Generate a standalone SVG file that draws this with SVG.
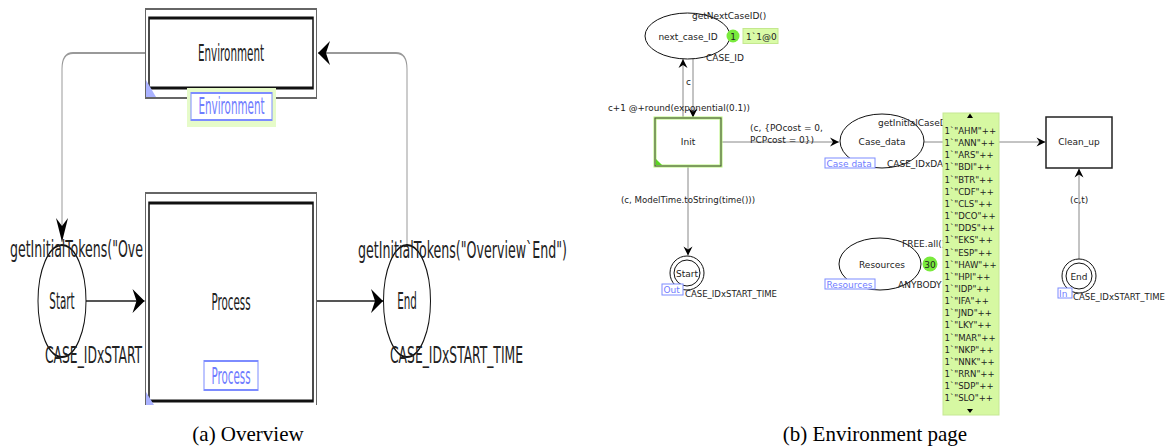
<svg xmlns="http://www.w3.org/2000/svg" width="1169" height="448" viewBox="0 0 1169 448">
<style>
.lt{font-family:"DejaVu Sans Condensed","DejaVu Sans",sans-serif;font-size:11.5px;fill:#222}
.lm{text-anchor:middle}
.lb{font-family:"DejaVu Sans Condensed","DejaVu Sans",sans-serif;font-size:11.5px;fill:#6f7cff}
.rt{font-family:"DejaVu Sans",sans-serif;font-size:9px;fill:#222}
.rb{font-family:"DejaVu Sans",sans-serif;font-size:9px;fill:#6f7cff}
.tk{font-family:"DejaVu Sans Condensed","DejaVu Sans",sans-serif;font-size:9.5px;fill:#222}
.cap{font-family:"Liberation Serif",serif;font-size:21px;fill:#000;text-anchor:middle}
.pl{fill:#fff;stroke:#111;stroke-width:1}
.arcL{fill:none;stroke:#999;stroke-width:1}
.arcD{fill:none;stroke:#555;stroke-width:1}
.arcR{fill:none;stroke:#888;stroke-width:1}
.lbox{fill:#fff;stroke:#7d8cff;stroke-width:1}
.tok{fill:#79ea3c}
</style>
<defs>
<marker id="ahL" viewBox="-13 -7 14 14" refX="0" refY="0" markerWidth="14" markerHeight="14" markerUnits="userSpaceOnUse" orient="auto">
<path d="M0,0 L-12,-6 L-8,0 L-12,6 Z" fill="#000"/>
</marker>
<marker id="ahR" viewBox="-10 -5 11 10" refX="0" refY="0" markerWidth="11" markerHeight="10" markerUnits="userSpaceOnUse" orient="auto">
<path d="M0,0 L-9,-4.5 L-6,0 L-9,4.5 Z" fill="#000"/>
</marker>
</defs>
<rect width="1169" height="448" fill="#fff"/>

<!-- LEFT PANEL (vertically stretched) -->
<g id="overview" transform="scale(1,2)">
  <g id="connectors-left">
    <path class="arcL" d="M145,26.5 H73 Q62,26.5 62,34.5 V121" marker-end="url(#ahL)"/>
    <path class="arcL" d="M407,122.5 V34.5 Q407,26.5 396,26.5 H318" marker-end="url(#ahL)"/>
    <path class="arcD" d="M86,150.5 H144.5" marker-end="url(#ahL)"/>
    <path class="arcD" d="M317,150.5 H383" marker-end="url(#ahL)"/>
  </g>
  <g id="ov-start">
    <ellipse class="pl" cx="62" cy="150.5" rx="24" ry="28"/>
    <text class="lt lm" x="62" y="154.5">Start</text>
    <text class="lt" x="10" y="128.5" textLength="133" lengthAdjust="spacingAndGlyphs">getInitialTokens("Ove</text>
    <text class="lt" x="45" y="181.5" textLength="97" lengthAdjust="spacingAndGlyphs">CASE_IDxSTART</text>
  </g>
  <g id="ov-end">
    <ellipse class="pl" cx="407" cy="150.5" rx="23.5" ry="28"/>
    <text class="lt lm" x="407" y="154.5">End</text>
    <text class="lt" x="358" y="129" textLength="209" lengthAdjust="spacingAndGlyphs">getInitialTokens("Overview`End")</text>
    <text class="lt" x="390" y="181.5" textLength="133" lengthAdjust="spacingAndGlyphs">CASE_IDxSTART_TIME</text>
  </g>
  <g id="ov-environment">
    <rect x="145.5" y="4.5" width="171" height="44.5" fill="#fff" stroke="#666" stroke-width="1"/>
    <rect x="149" y="9" width="164" height="35" fill="none" stroke="#111" stroke-width="1.5"/>
    <polygon points="146,40 146,48.5 156,48.5" fill="#aab2ff"/>
    <text class="lt lm" x="231" y="30.5">Environment</text>
    <rect x="187" y="44" width="89" height="19.5" fill="#e6fbc9"/>
    <rect class="lbox" x="191" y="46.5" width="81" height="13.5"/>
    <text class="lb lm" x="231.5" y="57">Environment</text>
  </g>
  <g id="ov-process">
    <path d="M145.5,202.5 V96.5 H316.5 V202.5" fill="#fff" stroke="#666" stroke-width="1"/>
    <rect x="149" y="101.5" width="164" height="99" fill="none" stroke="#111" stroke-width="1.5"/>
    <polygon points="146,196 146,202.5 154,202.5" fill="#aab2ff"/>
    <text class="lt lm" x="231" y="155">Process</text>
    <rect class="lbox" x="204" y="180.5" width="54" height="14.5"/>
    <text class="lb lm" x="231" y="192">Process</text>
  </g>
</g>
<text class="cap" x="248" y="441">(a) Overview</text>

<!-- RIGHT PANEL -->
<g id="connectors-right">
  <path class="arcR" d="M683,118 V59" marker-end="url(#ahR)"/>
  <path class="arcR" d="M693,58 V117.5" marker-end="url(#ahR)"/>
  <path class="arcR" d="M721,142 H839" marker-end="url(#ahR)"/>
  <path class="arcR" d="M924,142 H1045.5" marker-end="url(#ahR)"/>
  <path class="arcR" d="M688,166 V255.5" marker-end="url(#ahR)"/>
  <path class="arcR" d="M1079,259 V168.5" marker-end="url(#ahR)"/>
  <text class="rt" x="686" y="85">c</text>
  <text class="rt" x="608" y="111" textLength="142" lengthAdjust="spacingAndGlyphs">c+1 @+round(exponential(0.1))</text>
  <text class="rt" x="750" y="131">(c, {POcost = 0,</text>
  <text class="rt" x="750" y="143">PCPcost = 0})</text>
  <text class="rt" x="621" y="203" textLength="134" lengthAdjust="spacingAndGlyphs">(c, ModelTime.toString(time()))</text>
  <text class="rt" x="1070" y="203">(c,t)</text>
</g>
<g id="next_case_ID">
  <ellipse class="pl" cx="687.5" cy="36" rx="42.5" ry="23"/>
  <text class="rt lm" x="688" y="39.5">next_case_ID</text>
  <text class="rt" x="692" y="19">getNextCaseID()</text>
  <text class="rt" x="706" y="61">CASE_ID</text>
  <circle class="tok" cx="733" cy="36" r="6.5"/>
  <text class="rt lm" x="733" y="39.5">1</text>
  <rect x="743" y="28.5" width="35" height="15" fill="#d9fba7" stroke="#c4e88e" stroke-width="1"/>
  <text class="rt" x="746" y="40">1`1@0</text>
</g>
<g id="Init">
  <rect x="655" y="118" width="66" height="48" fill="#fff" stroke="#b8f57a" stroke-width="3"/>
  <rect x="655" y="118" width="66" height="48" fill="none" stroke="#444" stroke-width="1"/>
  <polygon points="656,159 656,165 662,165" fill="#5ad622"/>
  <text class="rt lm" x="688" y="145">Init</text>
</g>
<g id="Case_data">
  <ellipse class="pl" cx="882" cy="141" rx="42" ry="27"/>
  <text class="rt lm" x="882" y="145">Case_data</text>
  <text class="rt" x="878" y="126">getInitialCaseD</text>
  <text class="rt" x="887" y="167">CASE_IDxDA</text>
  <rect class="lbox" x="825" y="158" width="50" height="10"/>
  <text class="rb" x="826.5" y="166.5">Case data</text>
</g>
<g id="Resources">
  <ellipse class="pl" cx="880" cy="264" rx="41" ry="26"/>
  <text class="rt lm" x="882" y="267.5">Resources</text>
  <text class="rt" x="902" y="247">FREE.all()</text>
  <text class="rt" x="898" y="288">ANYBODY</text>
  <circle class="tok" cx="930" cy="264" r="7.5"/>
  <text class="rt lm" x="930" y="267.5">30</text>
  <rect class="lbox" x="825" y="279" width="50" height="10"/>
  <text class="rb" x="826.5" y="287.5">Resources</text>
</g>
<g id="tokens">
  <rect x="943" y="113" width="56" height="302" fill="#d6f8a2" stroke="#c6e894" stroke-width="1"/>
  <polygon points="970,113.5 967,118 973,118" fill="#000"/>
  <polygon points="967,409 973,409 970,413" fill="#000"/>
  <text class="tk" x="944.5" y="134">1`"AHM"++</text>
  <text class="tk" x="944.5" y="146.1">1`"ANN"++</text>
  <text class="tk" x="944.5" y="158.3">1`"ARS"++</text>
  <text class="tk" x="944.5" y="170.4">1`"BDI"++</text>
  <text class="tk" x="944.5" y="182.6">1`"BTR"++</text>
  <text class="tk" x="944.5" y="194.7">1`"CDF"++</text>
  <text class="tk" x="944.5" y="206.9">1`"CLS"++</text>
  <text class="tk" x="944.5" y="219">1`"DCO"++</text>
  <text class="tk" x="944.5" y="231.2">1`"DDS"++</text>
  <text class="tk" x="944.5" y="243.3">1`"EKS"++</text>
  <text class="tk" x="944.5" y="255.5">1`"ESP"++</text>
  <text class="tk" x="944.5" y="267.6">1`"HAW"++</text>
  <text class="tk" x="944.5" y="279.8">1`"HPI"++</text>
  <text class="tk" x="944.5" y="291.9">1`"IDP"++</text>
  <text class="tk" x="944.5" y="304.1">1`"IFA"++</text>
  <text class="tk" x="944.5" y="316.2">1`"JND"++</text>
  <text class="tk" x="944.5" y="328.4">1`"LKY"++</text>
  <text class="tk" x="944.5" y="340.5">1`"MAR"++</text>
  <text class="tk" x="944.5" y="352.7">1`"NKP"++</text>
  <text class="tk" x="944.5" y="364.8">1`"NNK"++</text>
  <text class="tk" x="944.5" y="377">1`"RRN"++</text>
  <text class="tk" x="944.5" y="389.1">1`"SDP"++</text>
  <text class="tk" x="944.5" y="401.3">1`"SLO"++</text>
</g>
<g id="Clean_up">
  <rect x="1046" y="117" width="66" height="51" fill="#fff" stroke="#222" stroke-width="1.5"/>
  <text class="rt lm" x="1079" y="145">Clean_up</text>
</g>
<g id="Start">
  <circle class="pl" cx="687" cy="273" r="17"/>
  <circle class="pl" cx="687" cy="273" r="13"/>
  <text class="rt lm" x="687" y="276.5">Start</text>
  <text class="rt" x="685" y="297" textLength="92" lengthAdjust="spacingAndGlyphs">CASE_IDxSTART_TIME</text>
  <rect class="lbox" x="662" y="284" width="21" height="11"/>
  <text class="rb" x="663.5" y="293">Out</text>
</g>
<g id="End">
  <circle class="pl" cx="1079" cy="276" r="17"/>
  <circle class="pl" cx="1079" cy="276" r="13"/>
  <text class="rt lm" x="1079" y="279.5">End</text>
  <text class="rt" x="1073" y="300" textLength="92" lengthAdjust="spacingAndGlyphs">CASE_IDxSTART_TIME</text>
  <rect class="lbox" x="1058" y="288" width="14" height="10"/>
  <text class="rb" x="1059" y="296.5">In</text>
</g>
<text class="cap" x="875" y="441">(b) Environment page</text>
</svg>
